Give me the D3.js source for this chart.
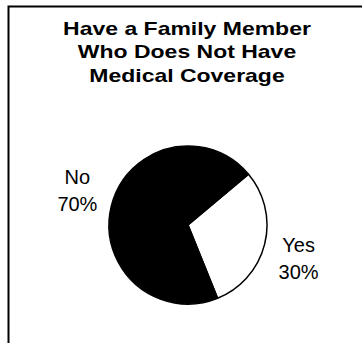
<!DOCTYPE html>
<html>
<head>
<meta charset="utf-8">
<script src="https://cdn.jsdelivr.net/npm/d3@7"></script>
<style>
  html, body { margin: 0; padding: 0; background: #fff; }
  svg { display: block; }
  text { font-family: Arial, "Liberation Sans", sans-serif; }
</style>
</head>
<body>
<svg id="chart" width="362" height="343"></svg>
<script>
const titleLines = ["Have a Family Member", "Who Does Not Have", "Medical Coverage"];
const categories = ["Yes", "No"];
const values = [30, 70];
const valueLabels = ["30%", "70%"];
const fills = ["#ffffff", "#000000"];

const W = 362, H = 343;
const svg = d3.select("#chart");
svg.append("rect").attr("width", W).attr("height", H).attr("fill", "#fff");

// frame (top and left edges visible)
svg.append("path")
  .attr("d", `M8.5,${H} L8.5,6.5 L${W},6.5`)
  .attr("fill", "none").attr("stroke", "#000").attr("stroke-width", 2);

// title (glyphs rendered wide, as in the reference)
const title = svg.append("text")
  .attr("transform", "translate(187,0) scale(1.21,1)")
  .attr("text-anchor", "middle")
  .attr("font-weight", "bold")
  .attr("font-size", 19)
  .attr("fill", "#000");
titleLines.forEach((t, i) => {
  title.append("tspan").attr("x", 0).attr("y", 35 + i * 23.5).text(t);
});

// pie
const cx = 188, cy = 225, r = 79;
const data = categories.map((c, i) => ({ cat: c, value: values[i], label: valueLabels[i], fill: fills[i] }));
const pie = d3.pie().sort(null).value(d => d.value)
  .startAngle(50 * Math.PI / 180).endAngle(50 * Math.PI / 180 + 2 * Math.PI);
const arc = d3.arc().innerRadius(0).outerRadius(r);
const arcs = pie(data);

const g = svg.append("g").attr("transform", `translate(${cx},${cy})`);
g.selectAll("path.slice").data(arcs).join("path")
  .attr("class", "slice")
  .attr("d", arc)
  .attr("fill", d => d.data.fill)
  .attr("stroke", "#000")
  .attr("stroke-width", 1.5)
  .attr("stroke-linejoin", "round");

// labels
const rx = 114, ry = 140;
const lab = g.selectAll("text.lab").data(arcs).join("text")
  .attr("class", "lab")
  .attr("text-anchor", "middle")
  .attr("font-size", 20)
  .attr("fill", "#000");
lab.each(function(d) {
  const a = (d.startAngle + d.endAngle) / 2;
  const x = rx * Math.sin(a), y = -ry * Math.cos(a);
  const t = d3.select(this);
  t.append("tspan").attr("x", x).attr("y", y - 7).text(d.data.cat);
  t.append("tspan").attr("x", x).attr("y", y + 20).text(d.data.label);
});
</script>
</body>
</html>
